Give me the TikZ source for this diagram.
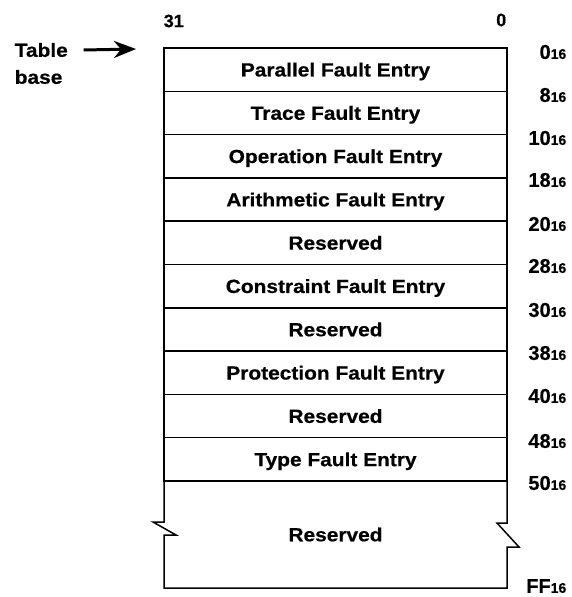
\documentclass[tikz,border=0pt]{standalone}
\usepackage{fontspec}
\setmainfont[FakeStretch=1.1,FakeBold=0.6]{Liberation Sans}
\newfontfamily\lblfont[FakeBold=0.4]{Liberation Sans}
\usetikzlibrary{arrows.meta,positioning}
\newcommand{\hexsub}[1]{#1{\fontsize{14}{14}\selectfont 16}}

\begin{document}
\begin{tikzpicture}[x=1pt, y=-1pt, node distance=0pt, line width=1.5pt, every node/.style={font=\fontsize{19}{19}\selectfont\bfseries}, row/.style={draw,outer sep=0pt,inner sep=0pt,minimum width=343pt,minimum height=43.3pt,text height=13.6pt,text depth=0pt}, off/.style={anchor=east,inner sep=0pt,font=\lblfont\fontsize{20}{20}\selectfont\bfseries}, bit/.style={inner sep=0pt,font=\lblfont\fontsize{18}{18}\selectfont\bfseries}]
\useasboundingbox (0,0) rectangle (571,597);
% entry rows
\node[row,anchor=north] (r0) at (335.5,48) {Parallel Fault Entry};
\node[row,below=of r0] (r1) {Trace Fault Entry};
\node[row,below=of r1] (r2) {Operation Fault Entry};
\node[row,below=of r2] (r3) {Arithmetic Fault Entry};
\node[row,below=of r3] (r4) {Reserved};
\node[row,below=of r4] (r5) {Constraint Fault Entry};
\node[row,below=of r5] (r6) {Reserved};
\node[row,below=of r6] (r7) {Protection Fault Entry};
\node[row,below=of r7] (r8) {Reserved};
\node[row,below=of r8] (r9) {Type Fault Entry};
\node[row,draw=none,minimum height=107pt,below=of r9] (r10) {Reserved};
\draw (r10.north west) -- ++(0,41) -- ++(-11,0) -- ++(23,13) -- ++(-12,0) |- (r10.south east) -- ++(0,-41) -- ++(12,0) -- ++(-22,-24) -- ++(10,0) -- (r10.north east);
% bit numbers
\node[bit,anchor=west] (b31) at (163,21) {31};
\node[bit,anchor=east] (b0) at (507,20) {0};
% table base pointer
\node[anchor=west,inner sep=0pt] (tbl) at (14,50) {Table};
\node[anchor=west,inner sep=0pt] (base) at (14,77) {base};
\coordinate (tip) at (136,49);
\draw[-{Stealth[length=22pt,width=17pt,inset=7pt]},line width=3pt] ([xshift=15pt]tbl.east) -- (tip);
% offsets
\node[off] (o0) at (567,52) {\hexsub{0}};
\node[off] (o1) at (567,95) {\hexsub{8}};
\node[off] (o2) at (567,138) {\hexsub{10}};
\node[off] (o3) at (567,180) {\hexsub{18}};
\node[off] (o4) at (567,224) {\hexsub{20}};
\node[off] (o5) at (567,266) {\hexsub{28}};
\node[off] (o6) at (567,310) {\hexsub{30}};
\node[off] (o7) at (567,353) {\hexsub{38}};
\node[off] (o8) at (567,396) {\hexsub{40}};
\node[off] (o9) at (567,441) {\hexsub{48}};
\node[off] (o10) at (567,483) {\hexsub{50}};
\node[off] (o11) at (567,586) {\hexsub{FF}};
\end{tikzpicture}
\end{document}
